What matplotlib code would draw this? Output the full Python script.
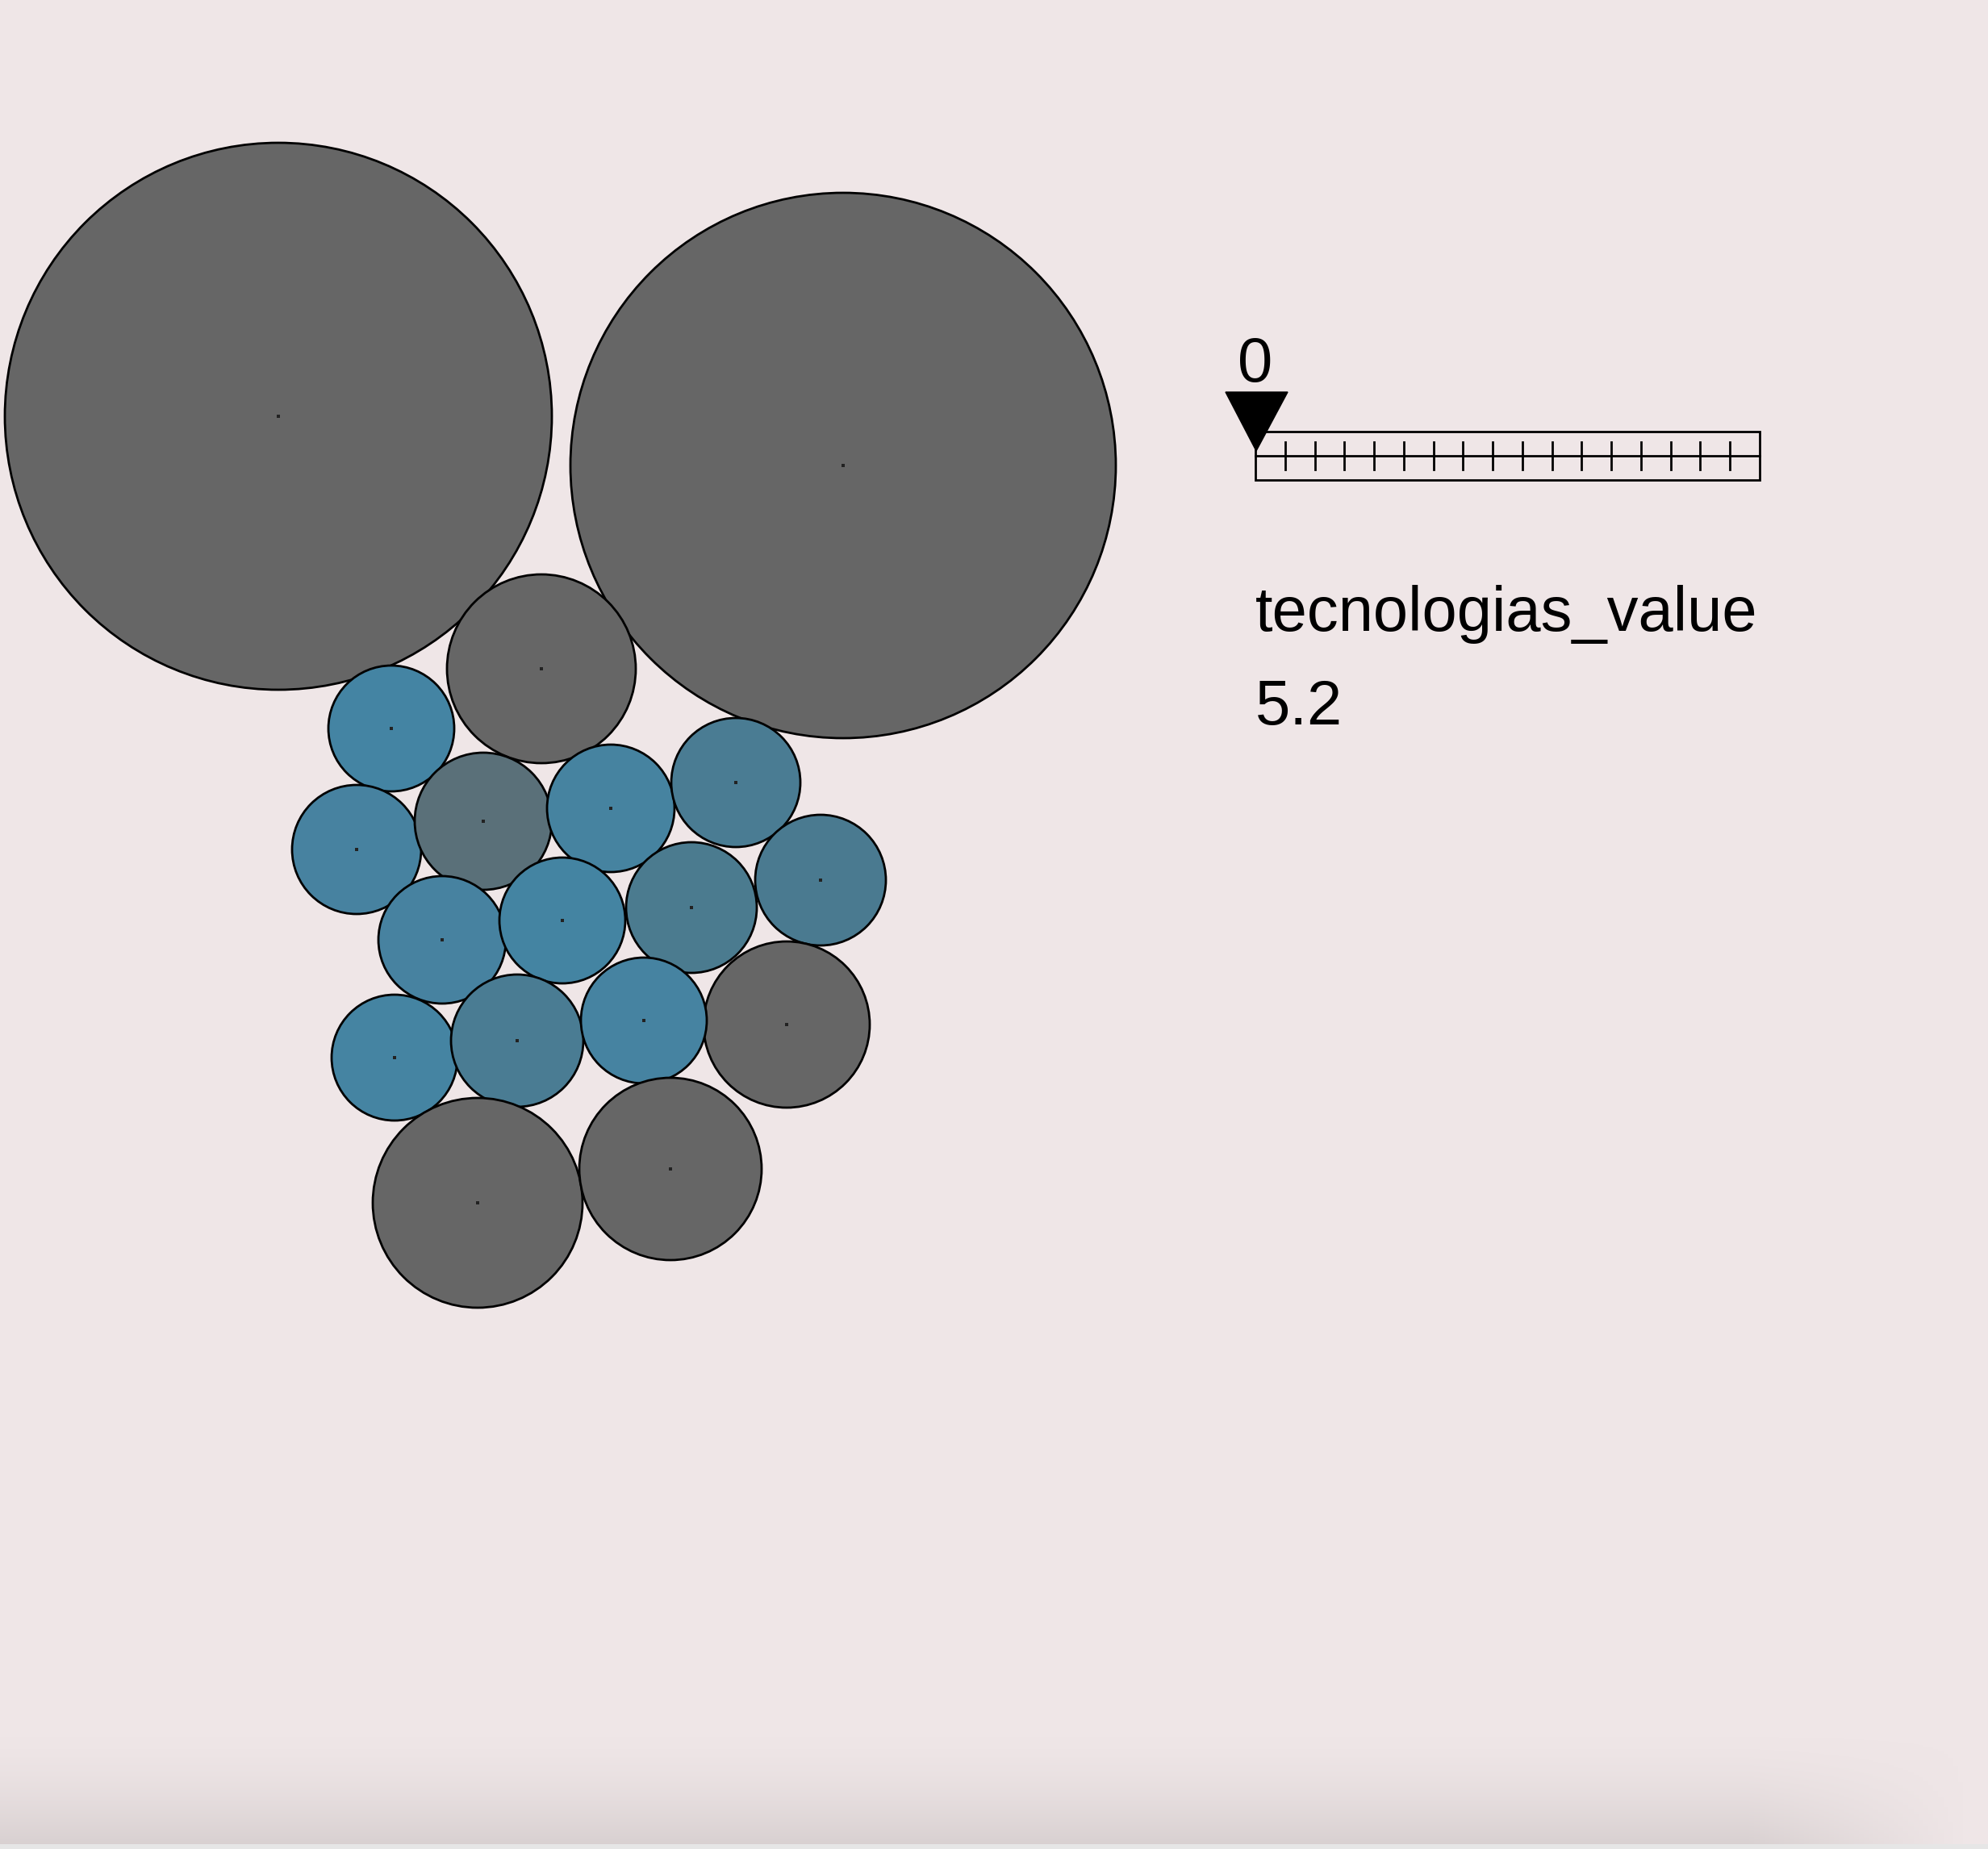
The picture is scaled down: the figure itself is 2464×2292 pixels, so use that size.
import numpy as np
import matplotlib.pyplot as plt
from matplotlib.patches import Circle, Rectangle, Polygon

# circle centres and radii, in picture pixels (2464 x 2292)
circle_x = [345, 1045, 671, 485, 442, 599, 757, 912, 1017,
            548, 697, 857, 975, 489, 641, 798, 592, 831]
circle_y = [516, 577, 829, 903, 1053, 1018, 1002, 970, 1091,
            1165, 1141, 1125, 1270, 1311, 1290, 1265, 1491, 1449]
circle_r = [339, 338, 117, 78, 80, 85, 79, 80, 81,
            79, 78, 81, 103, 78, 82, 78, 130, 113]
circle_color = ['#666666', '#666666', '#666666', '#4484a3', '#4782a0',
                '#5a7079', '#4683a0', '#4a7c93', '#4a7a90', '#4782a0',
                '#4484a2', '#4b7b8f', '#666666', '#4584a2', '#4a7c93',
                '#4683a1', '#666666', '#666666']

# slider legend
slider_left, slider_right = 1556, 2181
slider_top, slider_bottom = 535, 595
slider_mid = 564.6
n_ticks = 16
slider_value_label = "0"
legend_title = "tecnologias_value"
legend_value = "5.2"

bg = '#efe6e7'
plt.rcParams['font.family'] = ['Liberation Sans', 'DejaVu Sans']

fig = plt.figure(figsize=(24.64, 22.92), dpi=100)
fig.patch.set_facecolor(bg)
ax = fig.add_axes([0, 0, 1, 1])
ax.set_facecolor(bg)
ax.set_xlim(0, 2464)
ax.set_ylim(2292, 0)
ax.axis('off')

# circles
for x, y, r, c in zip(circle_x, circle_y, circle_r, circle_color):
    ax.add_patch(Circle((x, y), r, facecolor=c, edgecolor='black',
                        linewidth=2.0, zorder=2))
ax.scatter(circle_x, circle_y, s=5, c='#222222', marker='s',
           linewidths=0, zorder=3)

# slider
ax.add_patch(Rectangle((slider_left, slider_top), slider_right - slider_left,
                       slider_bottom - slider_top, facecolor='none',
                       edgecolor='black', linewidth=2.0, zorder=4))
ax.plot([slider_left, slider_right], [slider_mid, slider_mid],
        color='black', linewidth=2.0, zorder=4)
step = (slider_right - slider_left) / (n_ticks + 1)
tick_x = slider_left + step * np.arange(1, n_ticks + 1)
for tx in tick_x:
    ax.plot([tx, tx], [548, 582], color='black', linewidth=2.0, zorder=4)
ax.add_patch(Polygon([[1519, 486], [1596, 486], [1557, 559]],
                     closed=True, facecolor='black', edgecolor='black',
                     linewidth=1, zorder=5))
ax.text(1556, 473, slider_value_label, ha='center', va='baseline',
        fontsize=56, color='black')
ax.text(1556, 782, legend_title, ha='left', va='baseline',
        fontsize=56, color='black')
ax.text(1556, 898, legend_value, ha='left', va='baseline',
        fontsize=56, color='black')

# soft shadow at the bottom edge
gy = np.linspace(0, 1, 140)[:, None]
gx = np.linspace(0, 2464, 400)[None, :]
fade_x = np.clip((2440 - gx) / 270, 0, 1)
alpha = (gy ** 1.6) * fade_x * 0.55
shade = np.zeros((140, 400, 4))
shade[..., 0] = 0.78
shade[..., 1] = 0.75
shade[..., 2] = 0.75
shade[..., 3] = alpha
ax.imshow(shade, extent=[0, 2464, 2286, 2146], aspect='auto', zorder=1)
ax.add_patch(Rectangle((0, 2286), 2464, 6, facecolor='#e6e6e6',
                       edgecolor='none', zorder=1))

fig.savefig('out.png', dpi=100, facecolor=bg)
